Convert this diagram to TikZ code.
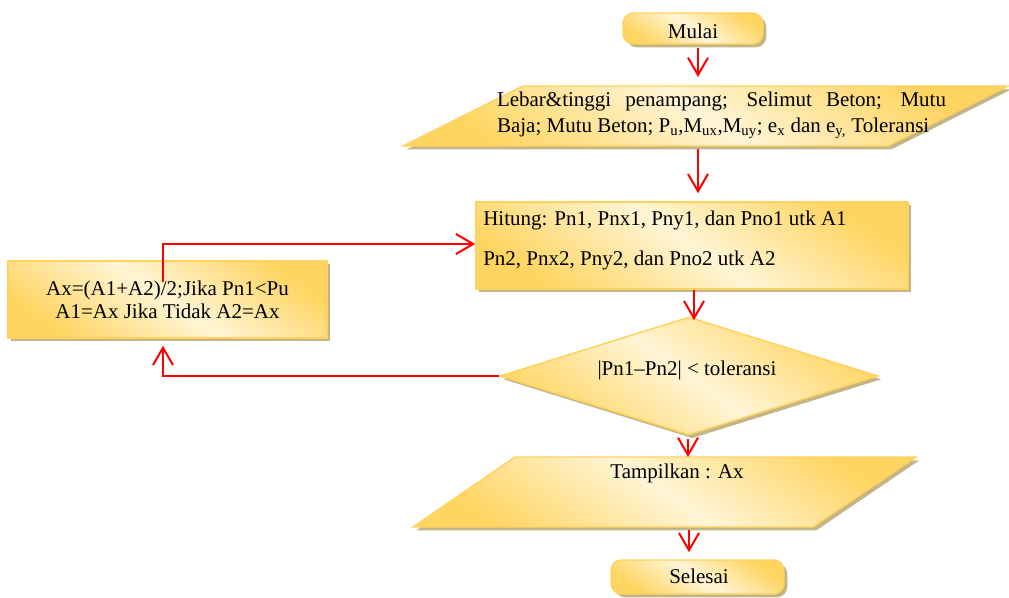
\documentclass[tikz,border=0pt]{standalone}
\usepackage{fontspec}
\setmainfont{Liberation Serif}
\usetikzlibrary{shapes.geometric,shadows,arrows.meta,calc}
\definecolor{gold}{RGB}{255,213,98}
\definecolor{cream}{RGB}{255,245,214}
\definecolor{edge}{RGB}{255,210,95}
\definecolor{shadecol}{RGB}{196,181,135}
\begin{document}
\begin{tikzpicture}[x=0.75pt,y=-0.75pt,font=\fontsize{15.75}{18}\selectfont,
  box/.style={draw=edge, line width=1.1pt, top color=gold, bottom color=gold, middle color=cream,
    shading angle=-35, inner sep=0pt,
    drop shadow={shadow xshift=2.5pt, shadow yshift=-2.5pt, fill=shadecol, opacity=1}},
  term/.style={box, rectangle, rounded corners=8pt},
  arr/.style={draw=red, line width=1.5pt, -{Straight Barb[length=13pt,width=15pt]}},
  txt/.style={inner sep=0pt}]
\useasboundingbox (0,0) rectangle (1009,598);

% start
\node[term, minimum width=105pt, minimum height=23.25pt] (mulai) at (693,28.5) {};
\node[txt] (tmulai) at (693,31) {Mulai};

% input parallelogram
\path[box] (523,86) -- (1008,86) -- (888,146) -- (403,146) -- cycle;
\coordinate (inN) at (698,86);
\coordinate (inS) at (698,146);
\node[txt, text width=336.75pt, align=justify, font=\fontsize{15.75}{19.5}\selectfont] (tinput) at (721.5,115)
  {Lebar\&tinggi penampang; Selimut Beton; Mutu\linebreak Baja; Mutu Beton; P\textsubscript{u},M\textsubscript{ux},M\textsubscript{uy}; e\textsubscript{x} dan e\textsubscript{y,} Toleransi};

% process
\node[box, rectangle, minimum width=324pt, minimum height=65.25pt] (proc) at (692,245.5) {};
\node[txt, anchor=west] (tproc1) at (483,220) {Hitung: Pn1, Pnx1, Pny1, dan Pno1 utk A1};
\node[txt, anchor=west] (tproc2) at (483,260) {Pn2, Pnx2, Pny2, dan Pno2 utk A2};

% update box
\node[box, rectangle, minimum width=239.25pt, minimum height=57.75pt, align=center,
      font=\fontsize{15.75}{17.25}\selectfont] (ax) at (167.5,299.5)
  {Ax=(A1+A2)/2;Jika Pn1<Pu\\A1=Ax Jika Tidak A2=Ax};

% decision
\node[box, diamond, minimum width=283.5pt, minimum height=88.5pt] (dec) at (689,376) {};
\node[txt] (tdec) at (687,370) {|Pn1–Pn2| < toleransi};

% output parallelogram
\path[box] (515,457) -- (916,457) -- (813,527) -- (413,527) -- cycle;
\coordinate (outN) at (688,457);
\coordinate (outS) at (689,527);
\node[txt] (toutput) at (677,473) {Tampilkan : Ax};

% end
\node[term, minimum width=129.75pt, minimum height=25.5pt] (selesai) at (697.5,577) {};
\node[txt] (tselesai) at (699,576) {Selesai};

% connectors
\coordinate (a1s) at ($(mulai.south)+(5,3)$);
\draw[arr] (a1s) -- ($(inN)+(0,-9)$);

\coordinate (a2e) at ($(proc.north)+(0,-8)$);
\draw[arr] ($(inS)+(0,3)$) -- (inS |- a2e);

\coordinate (a3s) at ($(proc.south)+(2,0)$);
\coordinate (a3e) at ($(dec.north)+(0,4)$);
\draw[arr] (a3s) -- (a3s |- a3e);

\coordinate (a4s) at ($(dec.south)+(-1,3)$);
\draw[arr] (a4s) -- (a4s |- outN);

\coordinate (a5e) at ($(selesai.north)+(0,-7)$);
\draw[arr] ($(outS)+(0,3)$) -- (outS |- a5e);

\coordinate (fb) at ($(ax.south)+(-4.5,7)$);
\draw[arr] (dec.west) -| (fb);

\coordinate (fbs) at ($(ax.center)+(-4.5,-17)$);
\coordinate (fbt) at (163,244);
\draw[arr] (fbs) -- (fbt) -- (fbt -| proc.west);
\end{tikzpicture}
\end{document}
